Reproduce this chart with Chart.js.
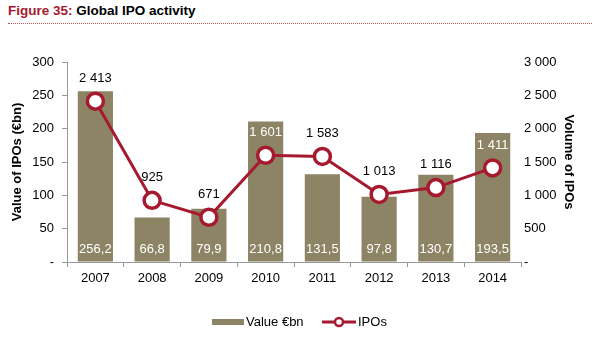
<!DOCTYPE html>
<html>
<head>
<meta charset="utf-8">
<script src="https://cdn.jsdelivr.net/npm/chart.js@4"></script>
<style>
  body { margin: 0; background: #fff; font-family: "Liberation Sans", Arial, sans-serif; }
  #wrap { position: relative; width: 592px; height: 347px; }
  #titulo { position: absolute; left: 8px; top: 3px; font-size: 13.5px; font-weight: bold; color: #000; }
  #titulo span { color: #a6192e; }
  #linha { position: absolute; left: 8px; right: 0; top: 23px; border-top: 1px dotted #c0504d; }
  canvas { position: absolute; left: 0; top: 0; }
</style>
</head>
<body>
<div id="wrap">
  <div id="titulo"><span>Figure 35:</span> Global IPO activity</div>
  <div id="linha"></div>
  <canvas id="grafico" width="592" height="347"></canvas>
</div>
<script>
const anos = ['2007', '2008', '2009', '2010', '2011', '2012', '2013', '2014'];
const valores = [256.2, 66.8, 79.9, 210.8, 131.5, 97.8, 130.7, 193.5];
const ipos = [2413, 925, 671, 1601, 1583, 1013, 1116, 1411];
const ticksValor = [0, 50, 100, 150, 200, 250, 300];
const ticksVolume = [0, 500, 1000, 1500, 2000, 2500, 3000];

const corBarra = '#8c8464';
const corLinha = '#a6192e';
const fonte = '"Liberation Sans", Arial, sans-serif';

function formatarMilhar(v) {
    if (v === 0) return '-';
    return String(v).replace(/\B(?=(\d{3})+(?!\d))/g, ' ');
}

const rotulos = {
    id: 'rotulos',
    afterDatasetsDraw(chart) {
        const ctx = chart.ctx;
        const barras = chart.getDatasetMeta(0).data;
        ctx.save();
        ctx.font = '13px ' + fonte;
        ctx.textAlign = 'center';
        ctx.textBaseline = 'middle';
        barras.forEach((bar, i) => {
            ctx.fillStyle = '#fff';
            ctx.fillText(valores[i].toFixed(1).replace('.', ','), bar.x, chart.chartArea.bottom - 13);
        });
        chart.getDatasetMeta(1).data.forEach((pt, i) => {
            const y = pt.y - 23;
            ctx.fillStyle = barras[i].y < y - 5 ? '#fff' : '#000';
            ctx.fillText(formatarMilhar(ipos[i]), pt.x, y);
        });
        ctx.restore();
    },
    afterDraw(chart) {
        const ctx = chart.ctx;
        ctx.save();
        const y = 322;
        ctx.font = '13px ' + fonte;
        ctx.textBaseline = 'middle';
        ctx.fillStyle = corBarra;
        ctx.fillRect(212, y - 3, 32, 6);
        ctx.fillStyle = '#000';
        ctx.fillText('Value €bn', 246, y);
        ctx.strokeStyle = corLinha;
        ctx.lineWidth = 3;
        ctx.beginPath();
        ctx.moveTo(322, y);
        ctx.lineTo(356, y);
        ctx.stroke();
        ctx.beginPath();
        ctx.arc(339, y, 4, 0, Math.PI * 2);
        ctx.fillStyle = '#fff';
        ctx.fill();
        ctx.lineWidth = 2.5;
        ctx.stroke();
        ctx.fillStyle = '#000';
        ctx.fillText('IPOs', 358, y);
        ctx.restore();
    }
};

new Chart(document.getElementById('grafico'), {
    type: 'bar',
    data: {
        labels: anos,
        datasets: [
            {
                type: 'bar',
                label: 'Value €bn',
                data: valores,
                backgroundColor: corBarra,
                yAxisID: 'y',
                categoryPercentage: 1,
                barPercentage: 0.62,
                order: 2
            },
            {
                type: 'line',
                label: 'IPOs',
                data: ipos,
                borderColor: corLinha,
                borderWidth: 3,
                pointRadius: 8,
                pointHoverRadius: 8,
                pointBackgroundColor: '#fff',
                pointBorderColor: corLinha,
                pointBorderWidth: 3.5,
                tension: 0,
                yAxisID: 'y1',
                order: 1
            }
        ]
    },
    options: {
        responsive: false,
        animation: false,
        layout: { padding: { top: 62, bottom: 0 } },
        plugins: { legend: { display: false }, tooltip: { enabled: false } },
        scales: {
            x: {
                offset: true,
                grid: { offset: true, drawOnChartArea: false, tickLength: 5, color: '#999' },
                border: { color: '#999' },
                ticks: { color: '#000', font: { family: fonte, size: 13 }, padding: 4 },
                afterFit(s) { s.height = 85; }
            },
            y: {
                position: 'left',
                min: 0, max: 300,
                afterBuildTicks(s) { s.ticks = ticksValor.map(v => ({ value: v })); },
                grid: { drawOnChartArea: false, tickLength: 5, color: '#999' },
                border: { color: '#999' },
                ticks: { color: '#000', font: { family: fonte, size: 13 }, padding: 8, callback: v => v === 0 ? '-' : v },
                title: { display: true, text: 'Value of IPOs (€bn)', color: '#000', font: { family: fonte, size: 13, weight: 'bold' }, padding: { top: 10, bottom: 2 } },
                afterFit(s) { s.width = 67; }
            },
            y1: {
                position: 'right',
                min: 0, max: 3000,
                afterBuildTicks(s) { s.ticks = ticksVolume.map(v => ({ value: v })); },
                grid: { display: false, drawTicks: false, tickLength: 0 },
                border: { display: false },
                ticks: { color: '#000', font: { family: fonte, size: 13 }, padding: 3, callback: v => formatarMilhar(v) },
                title: { display: true, text: 'Volume of IPOs', color: '#000', font: { family: fonte, size: 13, weight: 'bold' }, padding: { top: 16, bottom: 2 } },
                afterFit(s) { s.width = 71; }
            }
        }
    },
    plugins: [rotulos]
});
</script>
</body>
</html>
